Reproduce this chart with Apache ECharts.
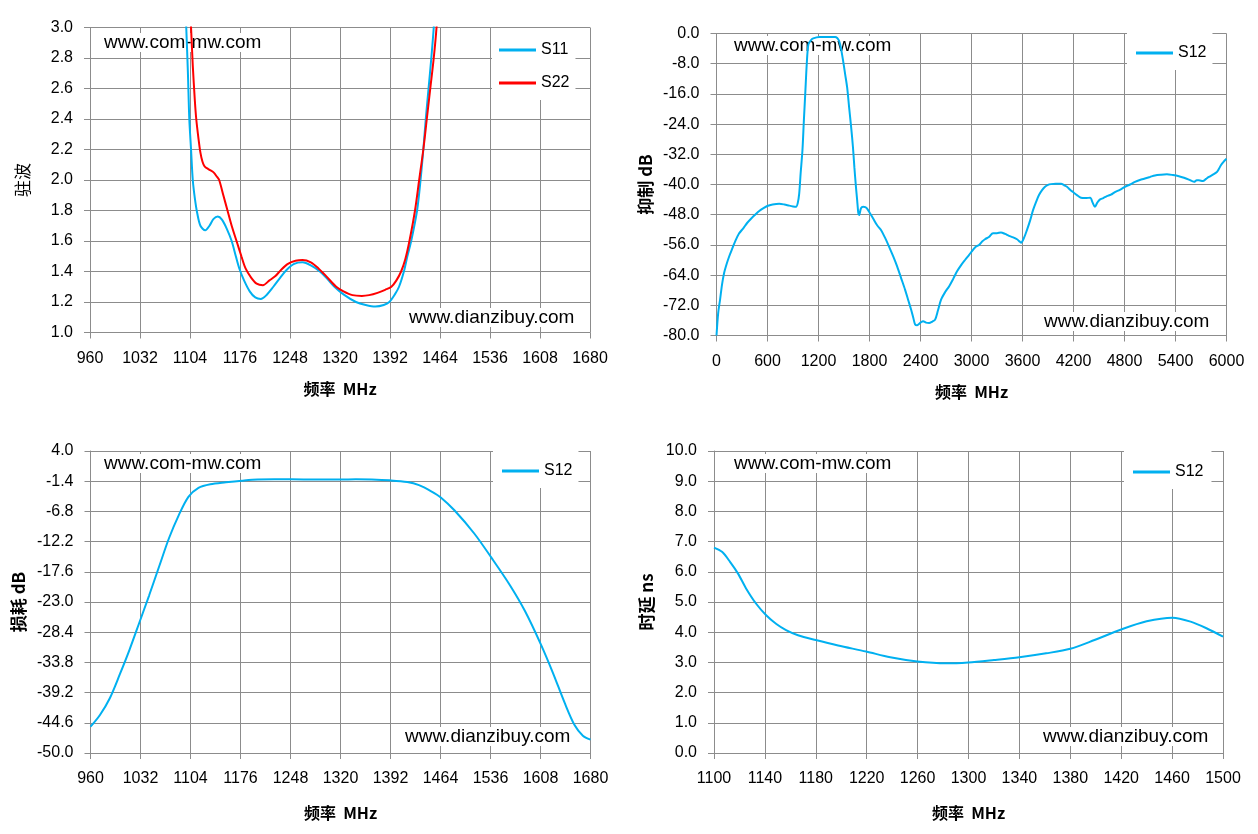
<!DOCTYPE html>
<html>
<head>
<meta charset="utf-8">
<script src="https://cdn.jsdelivr.net/npm/echarts@6/dist/echarts.min.js"></script>
<style>
html,body{margin:0;padding:0;background:#fff;}
#main{width:1258px;height:834px;}
</style>
</head>
<body>
<div id="main"></div>
<script>
// ---------- tick labels ----------
var x1Ticks = [960, 1032, 1104, 1176, 1248, 1320, 1392, 1464, 1536, 1608, 1680];
var y1Ticks = [1.0, 1.2, 1.4, 1.6, 1.8, 2.0, 2.2, 2.4, 2.6, 2.8, 3.0];
var x2Ticks = [0, 600, 1200, 1800, 2400, 3000, 3600, 4200, 4800, 5400, 6000];
var y2Ticks = [-80, -72, -64, -56, -48, -40, -32, -24, -16, -8, 0];
var x3Ticks = [960, 1032, 1104, 1176, 1248, 1320, 1392, 1464, 1536, 1608, 1680];
var y3Ticks = [-50.0, -44.6, -39.2, -33.8, -28.4, -23.0, -17.6, -12.2, -6.8, -1.4, 4.0];
var x4Ticks = [1100, 1140, 1180, 1220, 1260, 1300, 1340, 1380, 1420, 1460, 1500];
var y4Ticks = [0, 1, 2, 3, 4, 5, 6, 7, 8, 9, 10];

// ---------- series values [MHz, value] ----------
var vswrS11 = [[1093,3.6],[1098.6,3.0],[1101,2.7],[1103,2.4],[1105.5,2.2],[1108,2.0],[1111,1.88],[1114.5,1.78],[1119,1.70],[1126,1.67],[1132,1.70],[1138,1.745],[1144,1.76],[1150,1.74],[1157,1.68],[1164,1.6],[1170,1.5],[1175,1.42],[1182,1.34],[1190,1.27],[1198,1.23],[1206,1.22],[1213,1.24],[1224,1.30],[1234,1.36],[1243,1.41],[1254,1.45],[1266,1.46],[1278,1.44],[1291,1.40],[1302,1.35],[1312,1.30],[1325,1.25],[1343,1.2],[1357,1.18],[1371,1.17],[1383,1.18],[1391,1.2],[1399,1.25],[1405,1.3],[1412,1.4],[1417,1.5],[1422.5,1.6],[1431,1.8],[1436,2.0],[1440,2.2],[1443.5,2.4],[1447.5,2.6],[1451.5,2.8],[1455,3.0],[1459,3.3]];
var vswrS22 = [[1100,3.5],[1105.5,3.0],[1108,2.75],[1111,2.52],[1113,2.4],[1116,2.28],[1119,2.18],[1122,2.12],[1125,2.09],[1131,2.07],[1138,2.05],[1143,2.02],[1146,2.0],[1152,1.9],[1158,1.8],[1164,1.7],[1171,1.6],[1178,1.5],[1184,1.42],[1192,1.36],[1200,1.32],[1209,1.31],[1218,1.34],[1227,1.37],[1235,1.41],[1245,1.45],[1256,1.47],[1266,1.475],[1278,1.46],[1289,1.42],[1300,1.37],[1314.5,1.30],[1325,1.27],[1338,1.245],[1351.5,1.24],[1362,1.245],[1374,1.26],[1385,1.28],[1394,1.3],[1401,1.34],[1408,1.4],[1414,1.48],[1420,1.6],[1428,1.8],[1434,2.0],[1440,2.2],[1445,2.4],[1450,2.6],[1455,2.8],[1459,3.0],[1463,3.3]];
var rejS12 = [[0,-80],[20,-74],[42,-70.5],[65,-66.5],[89,-63.5],[120,-61],[150,-59],[185,-57],[221,-55],[265,-53],[315,-51.6],[360,-50.2],[409,-49],[455,-48],[503,-47],[550,-46.3],[597,-45.7],[660,-45.3],[738,-45.1],[800,-45.3],[856,-45.6],[900,-45.8],[936,-45.9],[955,-45],[973,-42.4],[990,-37],[1011,-31],[1028,-23],[1044,-16],[1062,-8],[1081,-2.9],[1110,-1.8],[1138,-1.3],[1208,-0.9],[1300,-0.9],[1396,-0.9],[1420,-1.2],[1443,-2],[1465,-4],[1490,-7.3],[1515,-11],[1537,-14.3],[1560,-19.5],[1584,-24.8],[1605,-30],[1622,-35.4],[1640,-40.5],[1655,-44.2],[1668,-47.5],[1678,-48.1],[1700,-46.3],[1725,-45.9],[1750,-46],[1772,-46.4],[1805,-47.6],[1843,-49],[1890,-50.8],[1937,-52.1],[1985,-54.2],[2031,-56.5],[2078,-59],[2125,-61.7],[2172,-64.8],[2219,-67.9],[2255,-70.6],[2290,-73.2],[2315,-75.3],[2337,-77.1],[2360,-77.3],[2374,-77.1],[2400,-76.6],[2431,-76.2],[2465,-76.6],[2501,-76.7],[2540,-76.3],[2572,-75.8],[2605,-73.4],[2642,-70.5],[2690,-68.5],[2736,-67],[2785,-65],[2830,-63],[2880,-61.3],[2924,-60],[2970,-58.7],[3018,-57.3],[3050,-56.5],[3089,-56],[3125,-55.1],[3159,-54.5],[3205,-53.9],[3253,-52.9],[3300,-52.9],[3347,-52.7],[3395,-53.1],[3441,-53.6],[3490,-54],[3535,-54.5],[3560,-55],[3583,-55.4],[3620,-54],[3653,-52],[3690,-49.5],[3724,-46.8],[3760,-44.6],[3794,-42.8],[3830,-41.5],[3865,-40.6],[3900,-40.1],[3935,-39.9],[3990,-39.8],[4053,-39.8],[4090,-40.2],[4123,-40.6],[4160,-41.4],[4194,-42],[4240,-42.8],[4288,-43.5],[4340,-43.6],[4396,-43.5],[4425,-44.8],[4452,-45.9],[4480,-44.8],[4509,-44],[4550,-43.6],[4593,-43.1],[4640,-42.7],[4687,-42],[4745,-41.4],[4805,-40.6],[4865,-40],[4923,-39.3],[4980,-38.8],[5040,-38.4],[5100,-38],[5158,-37.6],[5230,-37.4],[5299,-37.3],[5370,-37.5],[5440,-37.8],[5500,-38.2],[5557,-38.7],[5618,-39.3],[5650,-38.9],[5675,-38.9],[5722,-39.1],[5760,-38.5],[5793,-38],[5840,-37.4],[5887,-36.7],[5910,-35.9],[5934,-34.9],[5965,-34],[6000,-33.2]];
var lossS12 = [[960,-45.3],[973.6,-43.2],[987.8,-40.2],[1002,-36],[1016,-31.6],[1030,-26.8],[1044.5,-21.8],[1058.7,-16.7],[1073,-11.6],[1087,-7.5],[1101,-4.2],[1115.5,-2.6],[1132.5,-1.95],[1155,-1.6],[1178,-1.3],[1200.6,-1.08],[1225,-1.05],[1248.8,-1.06],[1285,-1.1],[1319.7,-1.1],[1342,-1.06],[1365,-1.1],[1390.6,-1.25],[1416,-1.55],[1433,-2.1],[1450.6,-3.2],[1464.4,-4.3],[1484,-6.6],[1512.6,-10.75],[1538,-15.2],[1564,-20],[1586,-24.7],[1609,-30.7],[1626,-35.7],[1643,-41.1],[1657,-45],[1669,-46.9],[1680,-47.6]];
var delayS12 = [[1100,6.8],[1106.3,6.66],[1112.6,6.33],[1118.9,5.94],[1125.2,5.45],[1133,4.95],[1141,4.56],[1149,4.27],[1156.6,4.07],[1166,3.9],[1180,3.74],[1197.5,3.56],[1219.6,3.36],[1238.5,3.17],[1259.8,3.03],[1282.5,2.97],[1299.8,3.0],[1320,3.08],[1340,3.17],[1361,3.3],[1380,3.45],[1399,3.74],[1420,4.09],[1440,4.36],[1460.3,4.48],[1474.5,4.35],[1487,4.13],[1500,3.85]];

var BLUE = '#00B0F0', RED = '#FF0000', GRID = '#8c8c8c';
var LATIN = '"Liberation Sans", Arial, sans-serif';
var CJK = '"Noto Sans CJK SC", "Liberation Sans", sans-serif';

function fmt1(v){ return Number(v).toFixed(1); }
function fmt0(v){ return String(Math.round(v)); }

function xAxisCfg(idx, ticks, gap){
  return {
    type: 'value', gridIndex: idx, min: ticks[0], max: ticks[ticks.length-1],
    name: '频率  MHz', nameLocation: 'middle', nameGap: gap,
    nameTextStyle: {fontFamily: CJK, fontSize: 16, fontWeight: 'bold', color: '#000'},
    axisLine: {show: true, onZero: false, lineStyle: {color: GRID, width: 1}},
    axisTick: {show: true, length: 6, inside: false, customValues: ticks, lineStyle: {color: GRID}},
    axisLabel: {customValues: ticks, formatter: fmt0, fontFamily: LATIN, fontSize: 16, color: '#000', margin: 18},
    splitLine: {show: true, lineStyle: {color: GRID, width: 1}}
  };
}
function yAxisCfg(idx, ticks, name, gap, bold){
  return {
    type: 'value', gridIndex: idx, min: ticks[0], max: ticks[ticks.length-1],
    name: name, nameLocation: 'middle', nameGap: gap, nameRotate: 90,
    nameTextStyle: {fontFamily: CJK, fontSize: 17, fontWeight: bold ? 'bold' : 'normal', color: '#000'},
    axisLine: {show: true, onZero: false, lineStyle: {color: GRID, width: 1}},
    axisTick: {show: true, length: 6, inside: false, customValues: ticks, lineStyle: {color: GRID}},
    axisLabel: {customValues: ticks, formatter: fmt1, fontFamily: LATIN, fontSize: 16, color: '#000', margin: 17},
    splitLine: {show: true, lineStyle: {color: GRID, width: 1}}
  };
}
function lineSeries(name, idx, data, color){
  return {
    type: 'line', name: name, xAxisIndex: idx, yAxisIndex: idx, data: data,
    showSymbol: false, symbol: 'none', smooth: 0.3, clip: true,
    lineStyle: {color: color, width: 2}, itemStyle: {color: color}, z: 5,
    animation: false
  };
}
function legendCfg(names, left, top, pad, gap){
  return {
    data: names, orient: 'vertical', left: left, top: top, padding: pad, itemGap: gap,
    backgroundColor: '#fff', icon: 'rect', itemWidth: 37, itemHeight: 3,
    textStyle: {fontFamily: LATIN, fontSize: 16, color: '#000'},
    selectedMode: false
  };
}
function mark(text, x, y){
  return {
    type: 'text', left: x, top: y - 10, z: 3,
    style: {text: text, font: '19px ' + LATIN, fill: '#000', backgroundColor: '#fff', padding: [0, 1]}
  };
}

var chart = echarts.init(document.getElementById('main'), null, {renderer: 'canvas'});
chart.setOption({
  animation: false,
  backgroundColor: '#fff',
  grid: [
    {left: 90, top: 27.5, width: 500, height: 305},
    {left: 716.5, top: 33.5, width: 510, height: 302},
    {left: 90.5, top: 451, width: 500, height: 302},
    {left: 714, top: 451, width: 509, height: 302}
  ],
  xAxis: [
    xAxisCfg(0, x1Ticks, 48),
    xAxisCfg(1, x2Ticks, 48),
    xAxisCfg(2, x3Ticks, 52),
    xAxisCfg(3, x4Ticks, 52)
  ],
  yAxis: [
    yAxisCfg(0, y1Ticks, '驻波', 59, false),
    yAxisCfg(1, y2Ticks, '抑制 dB', 62, true),
    yAxisCfg(2, y3Ticks, '损耗 dB', 63, true),
    yAxisCfg(3, y4Ticks, '时延 ns', 59, true)
  ],
  legend: [
    legendCfg(['S11', 'S22'], 492, 28, [14, 6, 9, 7], 17),
    legendCfg(['S12'], 1127, 33, [12, 6, 9, 9], 10),
    legendCfg(['S12'], 493, 451, [12, 6, 9, 9], 10),
    legendCfg(['S12'], 1124, 451, [13, 8, 9, 9], 10)
  ],
  graphic: [
    mark('www.com-mw.com', 103, 43),
    mark('www.dianzibuy.com', 408, 318),
    mark('www.com-mw.com', 733, 46),
    mark('www.dianzibuy.com', 1043, 322),
    mark('www.com-mw.com', 103, 464),
    mark('www.dianzibuy.com', 404, 737),
    mark('www.com-mw.com', 733, 464),
    mark('www.dianzibuy.com', 1042, 737)
  ],
  series: [
    lineSeries('S11', 0, vswrS11, BLUE),
    lineSeries('S22', 0, vswrS22, RED),
    lineSeries('S12', 1, rejS12, BLUE),
    lineSeries('S12', 2, lossS12, BLUE),
    lineSeries('S12', 3, delayS12, BLUE)
  ]
});
</script>
</body>
</html>
